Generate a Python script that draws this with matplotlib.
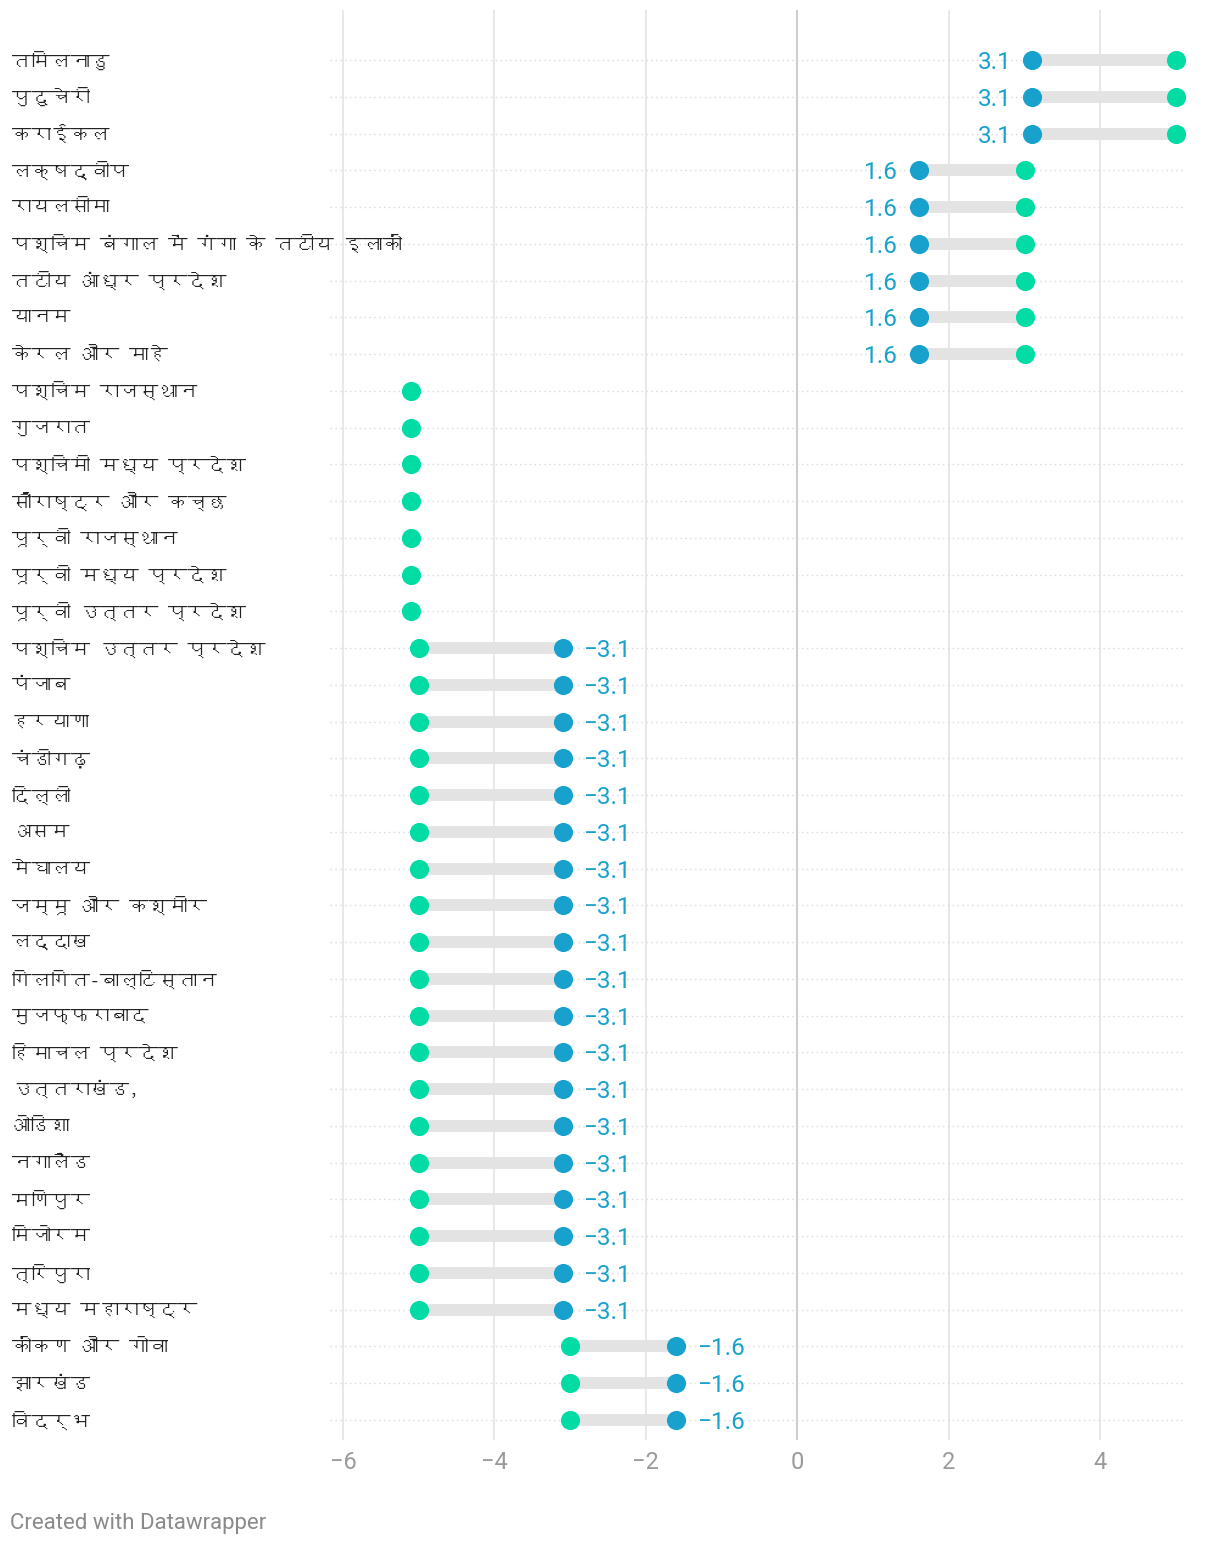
import matplotlib
matplotlib.use("Agg")
import matplotlib.pyplot as plt
from matplotlib import font_manager
from matplotlib.ft2font import FT2Font


# find any installed font that has Devanagari glyphs
def find_devanagari_font():
    for f in font_manager.fontManager.ttflist:
        try:
            if 0x0915 in FT2Font(f.fname).get_charmap():
                return f.name
        except Exception:
            pass
    return None


deva = find_devanagari_font()
label_family = [deva, "Roboto", "DejaVu Sans"] if deva else ["Roboto", "DejaVu Sans"]

regions = [
    "तमिलनाडु", "पुदुचेरी", "कराईकल", "लक्षद्वीप", "रायलसीमा",
    "पश्चिम बंगाल में गंगा के तटीय इलाकों", "तटीय आंध्र प्रदेश", "यानम", "केरल और माहे",
    "पश्चिम राजस्थान", "गुजरात", "पश्चिमी मध्य प्रदेश", "सौराष्ट्र और कच्छ",
    "पूर्वी राजस्थान", "पूर्वी मध्य प्रदेश", "पूर्वी उत्तर प्रदेश",
    "पश्चिम उत्तर प्रदेश", "पंजाब", "हरयाणा", "चंडीगढ़", "दिल्ली", "असम", "मेघालय",
    "जम्मू और कश्मीर", "लद्दाख", "गिलगित-बाल्टिस्तान", "मुजफ्फराबाद", "हिमाचल प्रदेश",
    "उत्तराखंड,", "ओडिशा", "नगालैंड", "मणिपुर", "मिजोरम", "त्रिपुरा", "मध्य महाराष्ट्र",
    "कोंकण और गोवा", "झारखंड", "विदर्भ",
]
# blue = change value (labelled), green = other end; None = missing
blue = [3.1] * 3 + [1.6] * 6 + [None] * 7 + [-3.1] * 19 + [-1.6] * 3
green = [5.0] * 3 + [3.0] * 6 + [-5.1] * 7 + [-5.0] * 19 + [-3.0] * 3

BLUE = "#18a1cd"
GREEN = "#00dca4"
BAR = "#e3e3e3"

fig = plt.figure(figsize=(12.2, 15.48), dpi=100)
ax = fig.add_axes([330 / 1220, 1 - 1440 / 1548, (1186 - 330) / 1220, (1440 - 10) / 1548])

n = len(regions)
ys = list(range(n))
xmin = -6 - 13 / 75.7
xmax = 5 + 10 / 75.7
ax.set_xlim(xmin, xmax)
# row 0 at y=60px, row 37 at 1420px; axes spans 10..1440
step = (1420 - 60) / (n - 1)
ax.set_ylim(n - 1 + (1440 - 1420) / step, -(60 - 10) / step)

# vertical gridlines
for t in range(-6, 5, 2):
    ax.axvline(t, color="#c8c8c8" if t == 0 else "#e6e6e6", lw=1.3, zorder=0)

# dotted row lines
for y in ys:
    ax.plot([xmin, xmax], [y, y], color="#d9d9d9", lw=1, ls=(0, (1, 2.5)), zorder=1)

for y, b, g in zip(ys, blue, green):
    if b is not None:
        ax.plot([b, g], [y, y], color=BAR, lw=8.5, solid_capstyle="butt", zorder=2)
        ax.scatter([b], [y], s=190, color=BLUE, zorder=4, linewidths=0)
        if b > 0:
            ax.text(b - 0.27, y, f"{b:.1f}", color=BLUE, fontsize=17.5, family="Roboto",
                    ha="right", va="center_baseline")
        else:
            ax.text(b + 0.27, y, f"\u2212{abs(b):.1f}", color=BLUE, fontsize=17.5,
                    family="Roboto", ha="left", va="center_baseline")
    ax.scatter([g], [y], s=190, color=GREEN, zorder=3, linewidths=0)

    fig.text(12 / 1220, 1 - (60 + y * step) / 1548, regions[y], fontsize=14,
             family=label_family, color="#222222", ha="left", va="center")

ax.set_xticks(range(-6, 5, 2))
ax.set_xticklabels([f"\u2212{abs(t)}" if t < 0 else str(t) for t in range(-6, 5, 2)],
                   family="Roboto", fontsize=17, color="#9a9a9a")
ax.tick_params(axis="x", length=0, pad=8)
ax.set_yticks([])
for s in ax.spines.values():
    s.set_visible(False)

fig.text(10 / 1220, 1 - 1524 / 1548, "Created with Datawrapper", family="Roboto",
         fontsize=16, color="#8a8a8a", ha="left", va="center")

fig.savefig("out.png", dpi=100)
